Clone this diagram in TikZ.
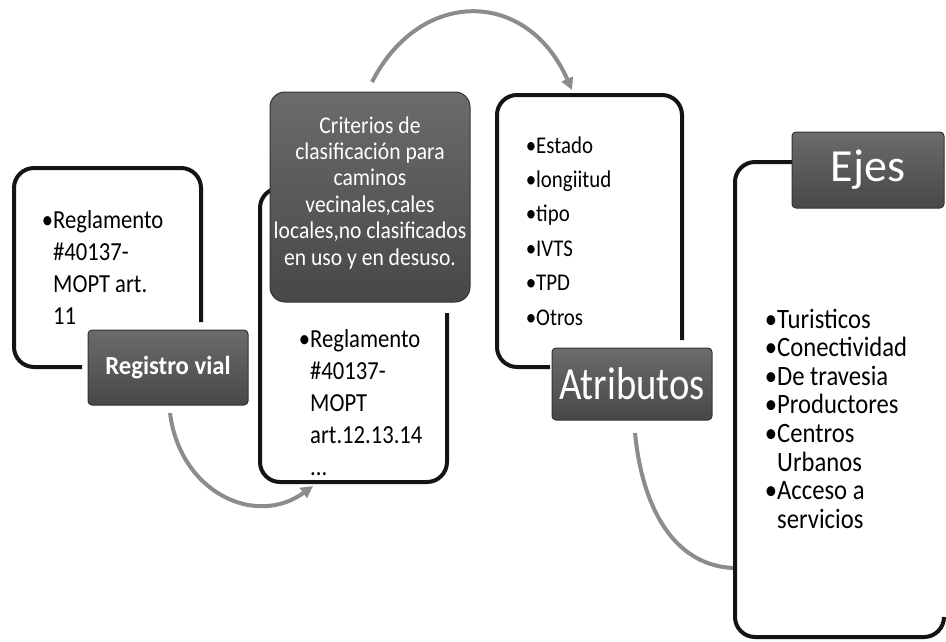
\documentclass[tikz,border=0pt]{standalone}
\usepackage{fontspec}
\setmainfont{Carlito}
\newfontfamily\fA{Carlito}[FakeStretch=0.87]
\newfontfamily\fC{Carlito}[FakeStretch=0.9]
\newfontfamily\fE{Carlito}[FakeStretch=0.88]
\newfontfamily\fR{Carlito}[FakeStretch=0.95]
\newfontfamily\fT{Carlito}[FakeStretch=0.84]
\usetikzlibrary{arrows.meta}
\newcommand\bulletmark{\leavevmode\llap{•}}
\tikzset{
  bracket/.style={line width=4pt, draw=black!92, rounded corners=20pt},
  darkbox/.style={draw=black!80, line width=1pt, top color=black!58, bottom color=black!72,
                  rounded corners=4pt, inner sep=0pt, text=white},
  flow/.style={line width=4pt, draw=black!45},
  flowtip/.style={-{Triangle[length=12pt,width=12pt]}},
  listtext/.style={inner sep=0pt, anchor=base west, text=black}
}
\begin{document}
\begin{tikzpicture}[x=1pt,y=-1pt]
\useasboundingbox[fill=white] (0,0) rectangle (946,641);

% brackets
\draw[bracket] (82,367) -- (14,367) -- (14,168) -- (201,168) -- (201,322);
\draw[bracket] (447,313) -- (447,482) -- (260,482) -- (260,188) -- (290,188);
\draw[bracket] (550,367) -- (497,367) -- (497,95) -- (682,95) -- (682,340);
\draw[bracket] (792,162) -- (735,162) -- (735,637) -- (944,637) -- (944,617);

% dark title boxes
\node[darkbox, minimum width=160pt, minimum height=75pt, font=\fR\bfseries\fontsize{26}{30}\selectfont]
  (reg) at (168,367.5) {Registro vial};
\node[darkbox, rounded corners=15pt, minimum width=200pt, minimum height=210pt]
  (crit) at (370,197) {};
\node[inner sep=0pt, anchor=base, text=white, font=\fC\fontsize{24}{26.4}\selectfont]
  (crittext) at (370,133) {\parbox[t]{220pt}{\lineskiplimit=-50pt\centering
  Criterios de\\ clasificación para\\ caminos\\ vecinales,cales\\ locales,no clasificados\\ en uso y en desuso.}};
\node[darkbox, minimum width=160pt, minimum height=72pt, font=\fT\fontsize{46}{50}\selectfont]
  (atr) at (632,384) {Atributos};
\node[darkbox, minimum width=152pt, minimum height=76pt, font=\fontsize{46}{50}\selectfont]
  (ejes) at (868,170) {Ejes};

% lists
\node[listtext, font=\fA\fontsize{26}{32.3}\selectfont] (l1) at (53,228)
  {\parbox[t]{150pt}{\lineskiplimit=-50pt \bulletmark Reglamento\\ \#40137-\\ MOPT art.\\ 11}};
\node[listtext, font=\fA\fontsize{26}{32}\selectfont] (l2) at (310,347)
  {\parbox[t]{140pt}{\lineskiplimit=-50pt \bulletmark Reglamento\\ \#40137-\\ MOPT\\ art.12.13.14\\ ...}};
\node[listtext, font=\fA\fontsize{24}{34.4}\selectfont] (l3) at (536,153)
  {\parbox[t]{140pt}{\lineskiplimit=-50pt \bulletmark Estado\\ \bulletmark longiitud\\ \bulletmark tipo\\ \bulletmark IVTS\\ \bulletmark TPD\\ \bulletmark Otros}};
\node[listtext, font=\fE\fontsize{28}{28.6}\selectfont] (l4) at (777,328)
  {\parbox[t]{160pt}{\lineskiplimit=-50pt \bulletmark Turisticos\\ \bulletmark Conectividad\\ \bulletmark De travesia\\ \bulletmark Productores\\ \bulletmark Centros\\ Urbanos\\ \bulletmark Acceso a\\ servicios}};

% connectors
\coordinate (a1s) at (170,413);
\coordinate (a1e) at (313,486);
\draw[flow, flowtip] (a1s) .. controls (180,492) and (255,528) .. (a1e);
\coordinate (a2s) at (372,82);
\coordinate (a2e) at (572,90);
\draw[flow, flowtip] (a2s) .. controls (420,-12) and (527,-12) .. (a2e);
\coordinate (a3s) at (635,433);
\coordinate (a3e) at (733,568);
\draw[flow] (a3s) .. controls (642,505) and (672,565) .. (a3e);
\end{tikzpicture}
\end{document}
